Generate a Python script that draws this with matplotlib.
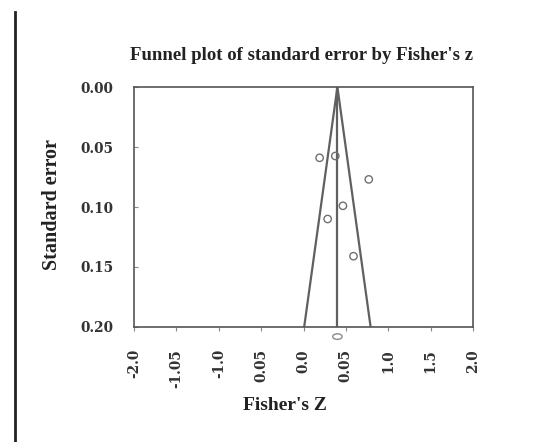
import matplotlib
matplotlib.use("Agg")
import matplotlib.pyplot as plt
import numpy as np
from matplotlib.lines import Line2D
from matplotlib.path import Path

plt.rcParams['font.family'] = ['Liberation Serif', 'DejaVu Serif']

# Data
fisher_z = [0.19, 0.375, 0.77, 0.465, 0.285, 0.59]
std_err = [0.059, 0.0575, 0.077, 0.099, 0.110, 0.141]
pooled_z = 0.40
pooled_marker_se = 0.208
x_ticks = [-2.0, -1.5, -1.0, -0.5, 0.0, 0.5, 1.0, 1.5, 2.0]
x_tick_labels = ['-2.0', '-1.05', '-1.0', '0.05', '0.0', '0.05', '1.0', '1.5', '2.0']
y_ticks = [0.00, 0.05, 0.10, 0.15, 0.20]
y_tick_labels = ['0.00', '0.05', '0.10', '0.15', '0.20']

W, H = 538, 442
fig = plt.figure(figsize=(W / 100, H / 100), dpi=100)
left, right, top, bottom = 134, 473, 87, 327
ax = fig.add_axes([left / W, 1 - bottom / H, (right - left) / W, (bottom - top) / H])

ax.set_xlim(-2, 2)
ax.set_ylim(0.20, 0.0)

line_col = '#606060'
se_max = 0.20
ax.plot([pooled_z, pooled_z], [0, se_max], color=line_col, lw=1.6)
ax.plot([pooled_z - 1.96 * se_max, pooled_z, pooled_z + 1.96 * se_max], [se_max, 0, se_max],
        color=line_col, lw=1.6)

ax.scatter(fisher_z, std_err, s=28, facecolors='none', edgecolors='#707070', linewidths=1.0, zorder=3)

# flattened ellipse marker for the pooled estimate
t = np.linspace(0, 2 * np.pi, 40)
ellipse = Path(np.column_stack([np.cos(t), 0.6 * np.sin(t)]), closed=True)
ax.scatter([pooled_z], [pooled_marker_se], s=45, facecolors='none', edgecolors='#8a8a8a',
           linewidths=1.0, zorder=3, clip_on=False, marker=ellipse)

tick_font = dict(family='DejaVu Serif', weight='bold', size=9.8)
ax.set_xticks(x_ticks)
ax.set_xticklabels(x_tick_labels, rotation=90, color='#333333', fontdict=tick_font)
ax.set_yticks(y_ticks)
ax.set_yticklabels(y_tick_labels, color='#333333', fontdict=tick_font)
ax.tick_params(axis='x', length=3, pad=13, color='#888888')
ax.tick_params(axis='y', length=3, pad=15, color='#888888', direction='in')

for s in ax.spines.values():
    s.set_color('#555555')
    s.set_linewidth(1.2)

fig.text(301 / W, 1 - 56 / H, "Funnel plot of standard error by Fisher's z", ha='center', va='center',
         fontsize=13.5, fontweight='bold', color='#222222')
fig.text(52 / W, 1 - 205 / H, 'Standard error', ha='center', va='center', rotation=90,
         fontsize=14.5, fontweight='bold', color='#222222')
fig.text(285 / W, 1 - 405 / H, "Fisher's Z", ha='center', va='center',
         fontsize=14, fontweight='bold', color='#222222')

fig.add_artist(Line2D([15 / W, 15 / W], [0.0, 1 - 12 / H], color='#222222', lw=2.0))

fig.savefig('out.png', dpi=100)
